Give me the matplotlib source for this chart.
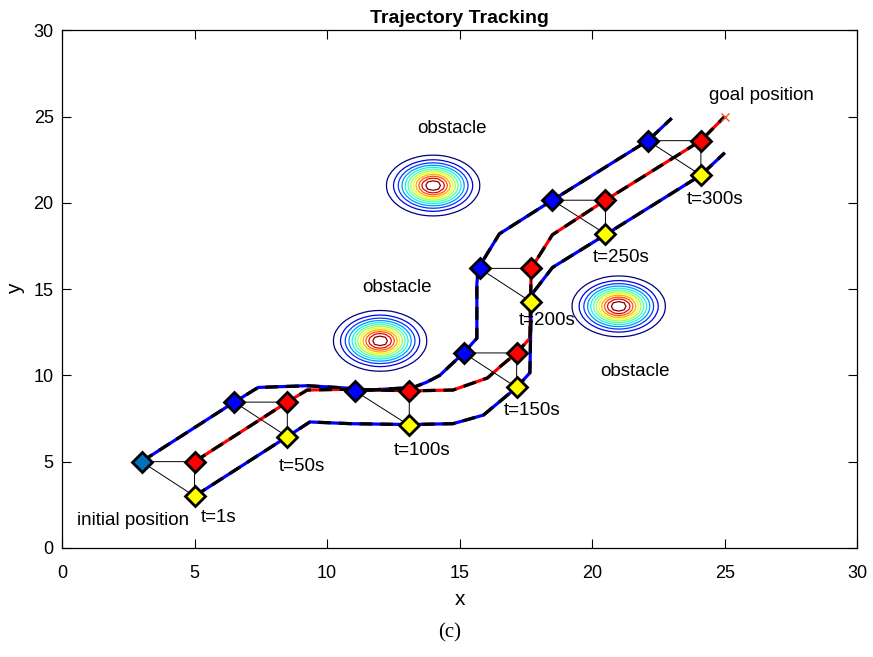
import numpy as np
import matplotlib
matplotlib.use('Agg')
import matplotlib.pyplot as plt

plt.rcParams['font.family'] = ['Liberation Sans', 'DejaVu Sans']

# formation paths
top_x = [3, 6.5, 7.4, 9.25, 10.9, 11.05, 13.25, 13.75, 14.25, 15.15, 15.65, 15.65, 15.7, 16.5, 18.5, 22.1, 23]
top_y = [5, 8.45, 9.3, 9.4, 9.25, 9.1, 9.3, 9.6, 10.0, 11.3, 12.15, 15.3, 16.2, 18.2, 20.15, 23.6, 24.9]
mid_x = [5, 8.5, 9.25, 10.9, 13.1, 14.75, 16.05, 16.6, 17.15, 17.65, 17.7, 18.5, 20.5, 24.1, 25]
mid_y = [5, 8.45, 9.15, 9.2, 9.1, 9.15, 9.85, 10.6, 11.3, 12.15, 16.2, 18.15, 20.15, 23.6, 25]
bot_x = [5, 8.5, 9.35, 10.9, 13.1, 14.75, 15.9, 17.15, 17.65, 17.7, 17.75, 18.5, 20.55, 24.1, 25]
bot_y = [3, 6.45, 7.3, 7.2, 7.15, 7.2, 7.7, 9.3, 10.15, 14.2, 14.75, 16.25, 18.2, 21.6, 22.9]

# robot positions at sample times
times = ['t=1s', 't=50s', 't=100s', 't=150s', 't=200s', 't=250s', 't=300s']
blue_mx = [3, 6.5, 11.05, 15.15, 15.75, 18.5, 22.1]
blue_my = [5, 8.45, 9.1, 11.3, 16.2, 20.15, 23.6]
red_mx = [5, 8.5, 13.1, 17.15, 17.7, 20.5, 24.1]
red_my = [5, 8.45, 9.1, 11.3, 16.2, 20.15, 23.6]
yel_mx = [5, 8.5, 13.1, 17.15, 17.7, 20.5, 24.1]
yel_my = [3, 6.45, 7.1, 9.3, 14.25, 18.2, 21.6]
time_lx = [5.9, 9.05, 13.6, 17.75, 18.3, 21.1, 24.65]
time_ly = [1.75, 4.7, 5.65, 7.95, 13.2, 16.85, 20.2]

goal = (25, 25)
obs_x = [12, 14, 21]
obs_y = [12, 21, 14]
obs_sigma = 0.76
obs_lx = [12.65, 14.7, 21.6]
obs_ly = [15.1, 24.3, 10.2]

fig = plt.figure(figsize=(8.73, 6.57), dpi=100)
ax = fig.add_axes([0.071, 0.166, 0.911, 0.788])

# obstacle potential contours
gx, gy = np.meshgrid(np.arange(0, 30.01, 0.2), np.arange(0, 30.01, 0.2))
Z = np.zeros_like(gx)
for cx, cy in zip(obs_x, obs_y):
    Z += np.exp(-((gx - cx) ** 2 + (gy - cy) ** 2) / (2 * obs_sigma ** 2))
ax.contour(gx, gy, Z, levels=np.linspace(0.07, 0.93, 12), cmap='jet', linewidths=0.9)

# paths: coloured line with black dashes on top
for px, py, c in [(top_x, top_y, 'blue'), (mid_x, mid_y, 'red'), (bot_x, bot_y, 'blue')]:
    ax.plot(px, py, color=c, lw=2.3, solid_capstyle='butt', zorder=3)
    ax.plot(px, py, color='black', lw=2.3, dashes=(4, 2.5), zorder=3.1)

# formation triangles
for i in range(len(times)):
    ax.plot([blue_mx[i], red_mx[i], yel_mx[i], blue_mx[i]],
            [blue_my[i], red_my[i], yel_my[i], blue_my[i]],
            color='black', lw=0.7, zorder=4)

mk = dict(marker='D', ms=10.5, mec='black', mew=2, ls='none', zorder=5)
ax.plot(blue_mx[:1], blue_my[:1], mfc=(0, 0.447, 0.741), **mk)
ax.plot(blue_mx[1:], blue_my[1:], mfc='blue', **mk)
ax.plot(red_mx, red_my, mfc='red', **mk)
ax.plot(yel_mx, yel_my, mfc='yellow', **mk)

ax.plot(*goal, marker='x', color=(0.9, 0.35, 0.1), ms=6, mew=1, zorder=6)

for lbl, lx, ly in zip(times, time_lx, time_ly):
    ax.text(lx, ly, lbl, fontsize=13.5, ha='center', va='center')
for lx, ly in zip(obs_lx, obs_ly):
    ax.text(lx, ly, 'obstacle', fontsize=13.5, ha='center', va='center')
ax.text(26.4, 26.2, 'goal position', fontsize=13.5, ha='center', va='center')
ax.text(2.68, 1.6, 'initial position', fontsize=13.5, ha='center', va='center')

ax.set_xlim(0, 30)
ax.set_ylim(0, 30)
ax.set_xticks(range(0, 31, 5))
ax.set_yticks(range(0, 31, 5))
ax.tick_params(direction='in', top=True, right=True, labelsize=13, length=6.5, width=0.8)
ax.tick_params(axis='x', pad=12)
ax.tick_params(axis='y', pad=6)
for s in ax.spines.values():
    s.set_linewidth(0.9)
ax.set_title('Trajectory Tracking', fontsize=14, fontweight='bold', pad=5)
ax.set_xlabel('x', fontsize=15, labelpad=6)
ax.set_ylabel('y', fontsize=15, labelpad=6)
fig.text(0.515, 0.036, '(c)', fontsize=15, family='Liberation Serif', ha='center', va='center')

fig.savefig('out.png', dpi=100)
